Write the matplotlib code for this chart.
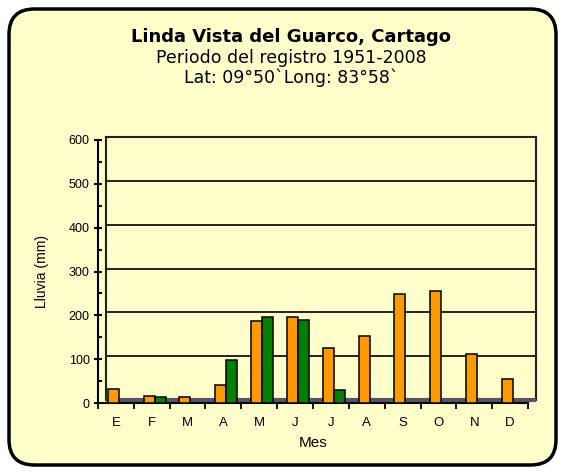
import numpy as np
import matplotlib
matplotlib.use('Agg')
import matplotlib.pyplot as plt
from matplotlib.patches import FancyBboxPatch

# datos
meses = ['E', 'F', 'M', 'A', 'M', 'J', 'J', 'A', 'S', 'O', 'N', 'D']
lluvia_naranja = [31, 17, 13, 41, 188, 197, 126, 152, 248, 255, 111, 55]
lluvia_verde = [1, 13, 1, 98, 196, 189, 29, 0, 0, 0, 0, 0]

titulo = 'Linda Vista del Guarco, Cartago'
linea2 = 'Periodo del registro 1951-2008'
linea3 = 'Lat: 09°50`Long: 83°58`'

W, H = 565, 474
fig = plt.figure(figsize=(W / 100, H / 100), dpi=100)
fig.patch.set_facecolor('white')

# marco redondeado
caja = FancyBboxPatch((9 / W, 9 / H), (W - 18) / W, (H - 18) / H,
                      boxstyle='round,pad=0,rounding_size=0.045',
                      transform=fig.transFigure, facecolor='#FFFFCC',
                      edgecolor='black', linewidth=2.5, mutation_aspect=W / H,
                      zorder=-5)
fig.patches.append(caja)

fig.text(291 / W, 1 - 37 / H, titulo, ha='center', va='center',
         fontsize=13, fontweight='bold', family='DejaVu Sans')
fig.text(291 / W, 1 - 58 / H, linea2, ha='center', va='center',
         fontsize=12.5, family='DejaVu Sans')
fig.text(291 / W, 1 - 78 / H, linea3, ha='center', va='center',
         fontsize=12.5, family='DejaVu Sans')

x = np.arange(len(meses))

# plano de fondo (pared)
ax_b = fig.add_axes([106 / W, 1 - 400 / H, 430 / W, 263 / H])
ax_b.set_facecolor('#FFFFCC')
ax_b.set_xlim(-0.5, 11.5)
ax_b.set_ylim(0, 600)
ax_b.set_yticks([100, 200, 300, 400, 500])
ax_b.set_xticks([])
ax_b.tick_params(left=False, labelleft=False)
ax_b.yaxis.grid(True, color='#222222', linewidth=1.4)
for s in ['left', 'right', 'top']:
    ax_b.spines[s].set_linewidth(1.5)
    ax_b.spines[s].set_color('#222222')
ax_b.spines['bottom'].set_color('#555566')
ax_b.spines['bottom'].set_linewidth(3)
ax_b.spines['bottom'].set_capstyle('butt')

# ejes frontales
ax = fig.add_axes([98 / W, 1 - 403 / H, 430 / W, 263 / H])
ax.patch.set_alpha(0)
ax.set_xlim(-0.5, 11.5)
ax.set_ylim(0, 600)
ax.bar(x + 0.08 - 0.155, lluvia_naranja, width=0.31, color='#FF9900',
       edgecolor='black', linewidth=1.1, zorder=3)
ax.bar(x + 0.08 + 0.155, lluvia_verde, width=0.31, color='#008000',
       edgecolor='black', linewidth=1.1, zorder=3)

ax.spines['top'].set_visible(False)
ax.spines['right'].set_visible(False)
ax.spines['left'].set_linewidth(1.5)
ax.spines['bottom'].set_linewidth(1.5)
ax.set_yticks(np.arange(0, 601, 100))
ax.set_yticks(np.arange(50, 600, 100), minor=True)
ax.tick_params(axis='y', which='major', direction='inout', length=6, width=1.5,
               labelsize=9, pad=3)
ax.tick_params(axis='y', which='minor', direction='in', length=3, width=1.5)
for t in ax.get_yticklabels():
    t.set_family('Liberation Sans')

ax.set_xticks(np.arange(-0.5, 12, 1))
ax.set_xticks(x, minor=True)
ax.set_xticklabels([])
ax.set_xticklabels(meses, minor=True, family='Liberation Sans', fontsize=9.5)
ax.tick_params(axis='x', which='major', direction='out', length=4, width=1.3)
ax.tick_params(axis='x', which='minor', length=0, pad=10)

ax.set_ylabel('Lluvia (mm)', family='Liberation Sans', fontsize=10, labelpad=14)
ax.set_xlabel('Mes', family='Liberation Sans', fontsize=11, labelpad=5)

fig.savefig('out.png', dpi=100)
